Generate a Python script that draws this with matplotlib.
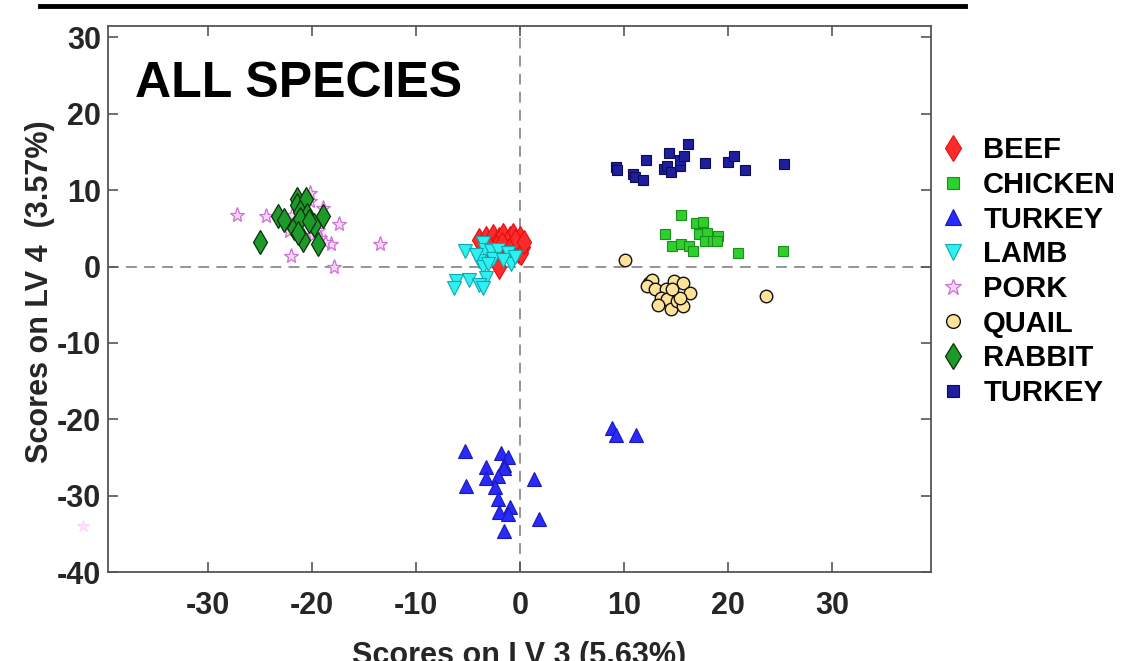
import matplotlib
matplotlib.use("Agg")
import matplotlib.pyplot as plt
from matplotlib.lines import Line2D
import numpy as np

plt.rcParams['font.family'] = ['Liberation Sans', 'DejaVu Sans']
plt.rcParams['axes.unicode_minus'] = False

# ---- data (LV3, LV4 scores) ----
beef_x = [-3.9, -3.3, -2.6, -2.0, -1.6, -1.0, -0.7, 0.0, 0.3, -0.2, -0.7, -1.3, -2.0, -2.3, 0.1, -0.5, -1.7, -3.0, 0.4, -1.1]
beef_y = [3.5, 3.8, 4.0, 3.6, 4.2, 3.8, 4.2, 3.8, 2.5, 2.0, 2.7, 3.1, -0.1, 2.5, 1.8, 3.3, 2.9, 2.6, 3.2, 2.2]

chicken_x = [15.5, 13.9, 14.6, 15.5, 16.2, 16.6, 16.9, 17.6, 17.2, 18.0, 17.8, 18.5, 19.0, 18.9, 20.9, 25.3]
chicken_y = [6.7, 4.3, 2.7, 2.9, 2.7, 2.0, 5.7, 5.8, 4.3, 4.4, 3.4, 3.4, 4.0, 3.3, 1.8, 2.1]

turkey_x = [-5.3, -5.2, -1.8, -1.2, -1.5, -1.5, -3.3, -3.3, -2.1, -2.4, -2.1, -2.0, -1.0, -1.2, -1.5, 1.3, 1.8, 8.8, 9.2, 11.1]
turkey_y = [-24.2, -28.7, -24.4, -24.9, -26.0, -26.4, -26.2, -27.7, -27.4, -28.8, -30.4, -32.2, -31.5, -32.4, -34.6, -27.8, -33.1, -21.1, -22.0, -22.0]

lamb_x = [-5.3, -3.6, -3.4, -2.8, -2.1, -1.2, -3.9, -3.6, -0.9, -3.3, -4.9, -6.2, -6.3, -3.9, -3.6, -2.6, -4.2, -1.6, -0.5, -3.1]
lamb_y = [2.0, 3.1, 2.2, 2.0, 2.2, 1.8, 0.7, 0.0, 0.3, -1.5, -1.7, -1.9, -2.8, -2.4, -2.8, 1.0, 1.5, 0.9, 1.2, 0.4]

pork_x = [-27.2, -24.4, -20.2, -18.9, -17.4, -22.0, -17.9, -18.2, -18.7, -19.9, -19.4, -13.5, -21.9, -22.2, -19.2, -20.2]
pork_y = [6.8, 6.6, 9.6, 7.7, 5.6, 1.4, 0.0, 2.9, 3.2, 4.2, 4.8, 2.9, 6.8, 4.6, 3.8, 8.6]
pork_outlier_x = [-42.0]
pork_outlier_y = [-34.0]

quail_x = [10.1, 23.6, 12.4, 12.7, 12.2, 13.0, 14.0, 14.8, 15.7, 16.3, 13.5, 14.1, 13.3, 14.5, 15.1, 15.7, 15.4, 14.6]
quail_y = [0.8, -3.9, -2.1, -1.7, -2.5, -2.9, -2.9, -1.9, -2.1, -3.5, -4.1, -4.2, -5.0, -5.5, -4.5, -5.2, -4.1, -3.0]

rabbit_x = [-25.0, -23.3, -22.7, -21.4, -21.4, -20.6, -21.1, -20.5, -21.7, -20.9, -19.8, -19.4, -18.9, -21.1, -20.3, -21.3]
rabbit_y = [3.2, 6.6, 6.1, 8.8, 8.1, 8.8, 7.2, 6.8, 5.1, 3.5, 5.5, 2.9, 6.6, 6.2, 6.0, 4.4]

turkey2_x = [9.2, 9.3, 10.9, 11.0, 11.8, 12.1, 13.8, 14.1, 14.5, 14.3, 15.4, 15.4, 15.8, 16.1, 17.8, 20.0, 20.6, 21.6, 25.4]
turkey2_y = [13.1, 12.6, 12.1, 11.7, 11.3, 14.0, 12.8, 13.2, 12.4, 14.9, 13.2, 13.9, 14.5, 16.0, 13.5, 13.7, 14.5, 12.7, 13.4]

labels = ["BEEF", "CHICKEN", "TURKEY", "LAMB", "PORK", "QUAIL", "RABBIT", "TURKEY"]
xticks = [-30, -20, -10, 0, 10, 20, 30]
yticks = [-40, -30, -20, -10, 0, 10, 20, 30]

# ---- figure ----
fig = plt.figure(figsize=(11.25, 6.61), dpi=100)
ax = fig.add_axes([0.096, 0.1346, 0.7316, 0.826])

dash = dict(color='#8c8c8c', lw=1.3, ls=(0, (6, 4)), zorder=1)
ax.axhline(0, **dash)
ax.axvline(0, **dash)

styles = [
    (beef_x, beef_y, dict(marker='d', ms=12, mfc='#ff2a2a', mec='#e01010', mew=0.8)),
    (chicken_x, chicken_y, dict(marker='s', ms=7.5, mfc='#2ed02e', mec='#1a8f1a', mew=0.8)),
    (turkey_x, turkey_y, dict(marker='^', ms=10, mfc='#2a2aff', mec='#1a1ab0', mew=0.8)),
    (lamb_x, lamb_y, dict(marker='v', ms=10, mfc='#2ef0f0', mec='#10a8b0', mew=0.8)),
    (pork_x, pork_y, dict(marker='*', ms=11, mfc='#f6d8f6', mec='#cf6fd8', mew=0.9)),
    (quail_x, quail_y, dict(marker='o', ms=9, mfc='#ffe29a', mec='#111111', mew=1.0)),
    (rabbit_x, rabbit_y, dict(marker='d', ms=12, mfc='#1d9a2a', mec='#0b300b', mew=0.9)),
    (turkey2_x, turkey2_y, dict(marker='s', ms=7.5, mfc='#1f1f9e', mec='#0c0c55', mew=0.8)),
]
handles = []
for (xs, ys, st), lab in zip(styles, labels):
    ax.plot(xs, ys, ls='none', zorder=3, **st)
    hs = dict(st)
    hs['ms'] = st['ms'] * 1.1
    handles.append(Line2D([], [], ls='none', **hs))

ax.plot(pork_outlier_x, pork_outlier_y, ls='none', marker='*', ms=9,
        mfc='#fbe3fb', mec='#f7d0f7', mew=0.6, clip_on=False, zorder=3)

ax.set_xlim(-39.6, 39.5)
ax.set_ylim(-40, 31.5)
ax.set_xticks(xticks)
ax.set_yticks(yticks)
ax.tick_params(direction='in', length=7, width=1.2, color='#555555',
               top=True, right=True, labelsize=22, labelcolor='#262626')
ax.tick_params(axis='x', pad=14)
ax.tick_params(axis='y', pad=5)
for lbl in ax.get_xticklabels() + ax.get_yticklabels():
    lbl.set_fontweight('bold')
for sp in ax.spines.values():
    sp.set_color('#555555')
    sp.set_linewidth(1.3)

ax.set_xlabel("Scores on LV 3 (5.63%)", fontsize=22, fontweight='bold', color='#262626', labelpad=14)
ax.set_ylabel("Scores on LV 4  (3.57%)", fontsize=22, fontweight='bold', color='#262626')
ax.yaxis.set_label_coords(-0.064, 0.513)

ax.text(0.033, 0.87, "ALL SPECIES", transform=ax.transAxes, fontsize=36,
        fontweight='bold', color='black', ha='left', va='baseline')

leg = fig.legend(handles, labels, loc='upper left', bbox_to_anchor=(0.835, 0.794),
                 frameon=False, prop=dict(size=21, weight='bold'),
                 handlelength=0.9, handletextpad=0.6, labelspacing=0.23,
                 borderaxespad=0, borderpad=0)

# cut-off underline of the title above
fig.add_artist(Line2D([40 / 1125, 965 / 1125], [1 - 6 / 661, 1 - 6 / 661],
                      transform=fig.transFigure, color='black', lw=3.5))

fig.savefig("out.png", dpi=100)
